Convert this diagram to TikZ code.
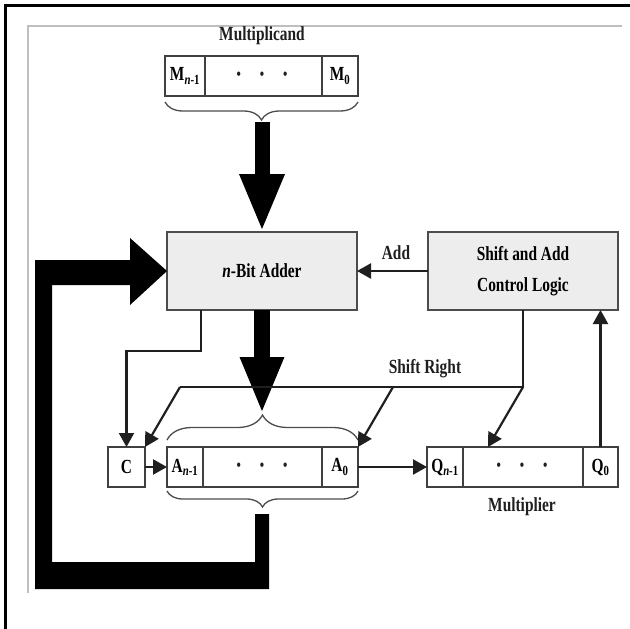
\documentclass[tikz,border=0pt]{standalone}
\usepackage{fontspec}
\setmainfont{Liberation Serif}[FakeStretch=0.77]
\usetikzlibrary{arrows.meta,decorations.pathreplacing}
\newcommand{\rdot}{{\fontsize{16}{16}\selectfont\textbullet}}
\tikzset{
  reg/.style={draw=black!75, line width=1.3pt, minimum height=40pt, inner sep=0pt, outer sep=0pt},
  blk/.style={draw=black!70, fill=black!7, line width=1.6pt, inner sep=0pt, outer sep=0pt, minimum height=78pt, minimum width=190pt},
  wire/.style={line width=2.2pt, draw=black!88},
  tip/.style={-{Triangle[length=14pt,width=15pt]}},
  brc/.style={draw=black!70, line width=1.3pt, decorate},
  lbl/.style={inner sep=0pt, text=black!88},
  dots/.style={inner sep=0pt, text=black!88},
}
\begin{document}
\begin{tikzpicture}[x=1pt,y=-1pt, font=\fontsize{20}{31}\selectfont\bfseries]
\useasboundingbox (0,0) rectangle (630,629);
% frame
\draw[line width=3pt] (5,629) -- (5,5) -- (630,5);
\draw[black!25, line width=1.5pt] (28,593) -- (28,26) -- (622,26);

% multiplicand register
\node[lbl] (mlabel) at (262,36) {Multiplicand};
\node[reg, minimum width=193pt] (mreg) at (261.5,76) {};
\node[reg, minimum width=40pt] (mhi) at (185,76) {M\textsubscript{\textit{n}-1}};
\node[reg, minimum width=36pt] (mlo) at (340,76) {M\textsubscript{0}};
\node[dots] (mdots) at (262,76) {\rdot\hspace{19pt}\rdot\hspace{19pt}\rdot};
\draw[brc, decoration={brace,amplitude=18pt}] (358,102) -- (165,102);
\coordinate (mbr) at (262,122);

% adder and control
\node[blk] (adder) at (262,271) {\textit{n}-Bit Adder};
\node[blk, minimum width=190pt, align=center] (ctrl) at (523,271) {Shift and Add\\Control Logic};

% A register
\node[reg, minimum width=37pt] (c) at (126.5,467) {C};
\node[reg, minimum width=191pt] (areg) at (262.5,467) {};
\node[reg, minimum width=36pt] (ahi) at (185,467) {A\textsubscript{\textit{n}-1}};
\node[reg, minimum width=36pt] (alo) at (340,467) {A\textsubscript{0}};
\node[dots] (adots) at (262,467) {\rdot\hspace{19pt}\rdot\hspace{19pt}\rdot};
\draw[brc, decoration={brace,amplitude=25pt}] (167,440) -- (358,440);
\coordinate (abr) at (262,414);
\draw[brc, decoration={brace,amplitude=16pt}] (358,491) -- (167,491);

% Q register
\node[reg, minimum width=191pt] (qreg) at (522.5,467) {};
\node[reg, minimum width=36pt] (qhi) at (445,467) {Q\textsubscript{\textit{n}-1}};
\node[reg, minimum width=35pt] (qlo) at (600.5,467) {Q\textsubscript{0}};
\node[dots] (qdots) at (522,467) {\rdot\hspace{19pt}\rdot\hspace{19pt}\rdot};
\node[lbl] (qlabel) at (522,507) {Multiplier};

% thick data arrows
\draw[line width=15pt, -{Triangle[length=58pt,width=41pt]}] (mbr) -- (adder.north);
\draw[line width=16pt, -{Triangle[length=57pt,width=40pt]}] (adder.south) -- (abr);
\fill (255,514) -- (269,514) -- (269,589) -- (35,589) -- (35,260) -- (130,260) -- (130,238)
  -- (adder.west) -- (130,305) -- (130,285) -- (52,285) -- (52,562) -- (255,562) -- cycle;

% control wires
\draw[wire, tip] (ctrl.west) -- (adder.east);
\node[lbl] (addlbl) at (396,253) {Add};
\coordinate (a1) at (201,310);
\coordinate (a2) at (201,351);
\draw[wire, tip] (a1) -- (a2) -| (c.north);
\coordinate (sr) at (523,387);
\coordinate (sm) at (393,387);
\coordinate (sl) at (180,387);
\coordinate (qt) at (488,447);
\draw[wire] (ctrl.south) -- (sr) -- (sl);
\node[lbl] (srlbl) at (425,369) {Shift Right};
\draw[wire, tip] (sl) -- (c.north east);
\draw[wire, tip] (sm) -- (areg.north east);
\draw[wire, tip] (sr) -- (qt);
\draw[wire, tip] (c.east) -- (areg.west);
\draw[wire, tip] (areg.east) -- (qreg.west);
\draw[wire, tip] (qlo.north) -- (ctrl.south -| qlo.north);
\end{tikzpicture}
\end{document}
